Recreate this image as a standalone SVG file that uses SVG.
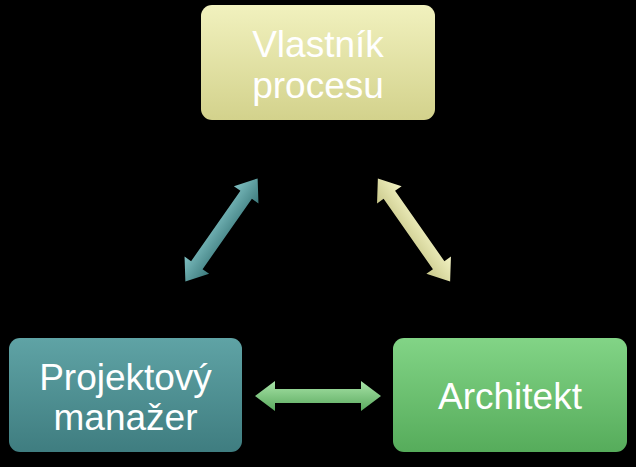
<svg xmlns="http://www.w3.org/2000/svg" width="636" height="467" viewBox="0 0 636 467">
<defs>
<linearGradient id="gy" x1="0" y1="0" x2="0" y2="1"><stop offset="0" stop-color="#f1f1be"/><stop offset="1" stop-color="#d3d28c"/></linearGradient>
<linearGradient id="gt" x1="0" y1="0" x2="0" y2="1"><stop offset="0" stop-color="#5fa3a5"/><stop offset="1" stop-color="#3f7d80"/></linearGradient>
<linearGradient id="gg" x1="0" y1="0" x2="0" y2="1"><stop offset="0" stop-color="#82d486"/><stop offset="1" stop-color="#56ac5b"/></linearGradient>
<linearGradient id="ay" x1="0" y1="0" x2="0" y2="1"><stop offset="0" stop-color="#f3f3c4"/><stop offset="1" stop-color="#c9c88a"/></linearGradient>
<linearGradient id="at" x1="0" y1="0" x2="0" y2="1"><stop offset="0" stop-color="#7fc0c2"/><stop offset="1" stop-color="#3c7a7c"/></linearGradient>
<linearGradient id="ag" x1="0" y1="0" x2="0" y2="1"><stop offset="0" stop-color="#a8e4a8"/><stop offset="1" stop-color="#5aa95e"/></linearGradient>
<polygon id="arr" points="-63,0 -43,-15 -43,-7 43,-7 43,-15 63,0 43,15 43,7 -43,7 -43,15"/>
</defs>
<style>
text{font-family:"Liberation Sans",Arial,sans-serif;font-size:37px;fill:#fff;text-anchor:middle}
</style>
<rect width="636" height="467" fill="#000"/>
<g id="connectors">
<use href="#arr" fill="url(#at)" transform="translate(221.5,230) rotate(-55)"/>
<use href="#arr" fill="url(#ay)" transform="translate(414,230) rotate(55)"/>
<use href="#arr" fill="url(#ag)" transform="translate(318,396)"/>
</g>
<g id="vlastnik">
<rect x="201" y="5" width="234" height="115" rx="11" fill="url(#gy)"/>
<text x="318" y="57">Vlastník</text>
<text x="318" y="98">procesu</text>
</g>
<g id="projektovy">
<rect x="9" y="338" width="233" height="114" rx="11" fill="url(#gt)"/>
<text x="125.5" y="390">Projektový</text>
<text x="125.5" y="430">manažer</text>
</g>
<g id="architekt">
<rect x="393" y="338" width="234" height="114" rx="11" fill="url(#gg)"/>
<text x="510" y="409">Architekt</text>
</g>
</svg>
